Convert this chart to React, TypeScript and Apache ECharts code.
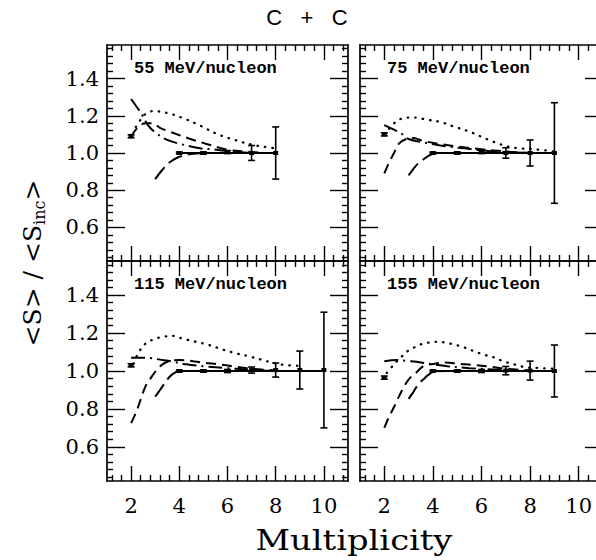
import { useEffect, useRef } from 'react';
import * as echarts from 'echarts';

// ---------- tick labels / ticks ----------
const xMajorTicks = [2, 4, 6, 8, 10];
const xMinorTicks = [1.2, 1.6, 2.4, 2.8, 3.2, 3.6, 4.4, 4.8, 5.2, 5.6, 6.4, 6.8, 7.2, 7.6, 8.4, 8.8, 9.2, 9.6, 10.4, 10.8];
const yMajorTicks = [0.6, 0.8, 1.0, 1.2, 1.4];
const yMinorTicks = [0.44, 0.48, 0.52, 0.56, 0.64, 0.68, 0.72, 0.76, 0.84, 0.88, 0.92, 0.96, 1.04, 1.08, 1.12, 1.16, 1.24, 1.28, 1.32, 1.36, 1.44, 1.48, 1.52, 1.56];

const panelLabels = ['55 MeV/nucleon', '75 MeV/nucleon', '115 MeV/nucleon', '155 MeV/nucleon'];

// ---------- 55 MeV/nucleon ----------
const dotted55 = [[2.2, 1.14], [2.4, 1.18], [2.6, 1.21], [2.9, 1.225], [3.5, 1.215], [4.2, 1.185], [4.9, 1.145], [5.6, 1.10], [6.3, 1.07], [7.0, 1.045], [7.7, 1.03], [8.0, 1.025]];
const dashed55 = [[2, 1.09], [2.3, 1.14], [2.6, 1.16], [2.9, 1.16], [3.2, 1.135], [3.7, 1.11], [4.4, 1.078], [5.1, 1.05], [6, 1.018], [6.9, 1.007], [7.5, 1.0]];
const longDash55 = [[3, 0.86], [3.3, 0.91], [3.6, 0.95], [4, 0.98], [4.5, 0.995], [5, 1.0]];
const dashDot55 = [[2, 1.29], [2.43, 1.21], [2.7, 1.15], [3.0, 1.11], [3.5, 1.07], [4, 1.05], [4.85, 1.025], [5.4, 1.02], [6, 1.01], [7, 1.0]];
const data55X = [2, 4, 5, 6, 7, 8];
const data55Y = [1.09, 1.0, 1.0, 1.005, 1.0, 1.0];
const data55Err = [0.008, 0.005, 0.006, 0.008, 0.04, 0.14];

// ---------- 75 MeV/nucleon ----------
const dotted75 = [[2.2, 1.13], [2.5, 1.17], [2.9, 1.19], [3.3, 1.19], [3.7, 1.18], [4.3, 1.167], [4.9, 1.14], [5.5, 1.115], [6.0, 1.087], [6.5, 1.06], [7.1, 1.034], [7.6, 1.025], [8.2, 1.02], [9.0, 1.008]];
const dashed75 = [[2, 0.89], [2.2, 0.95], [2.4, 1.0], [2.6, 1.05], [2.9, 1.075], [3.2, 1.08], [3.6, 1.065], [4.2, 1.05], [5, 1.035], [6, 1.02], [7, 1.008], [8, 1.0]];
const longDash75 = [[3, 0.88], [3.2, 0.915], [3.4, 0.945], [3.6, 0.965], [3.9, 0.99], [4.2, 1.0], [4.6, 1.0]];
const dashDot75 = [[2, 1.15], [2.4, 1.125], [2.7, 1.105], [3, 1.075], [3.5, 1.06], [4, 1.048], [4.6, 1.035], [5.3, 1.025], [6, 1.015], [7, 1.005], [8, 1.0]];
const data75X = [2, 4, 5, 6, 7, 8, 9];
const data75Y = [1.10, 1.0, 1.0, 1.005, 1.0, 1.0, 1.0];
const data75Err = [0.008, 0.005, 0.006, 0.008, 0.028, 0.07, 0.27];

// ---------- 115 MeV/nucleon ----------
const dotted115 = [[2.1, 1.04], [2.3, 1.095], [2.6, 1.145], [2.9, 1.165], [3.3, 1.18], [3.8, 1.185], [4.1, 1.172], [4.6, 1.157], [5.2, 1.138], [5.8, 1.113], [6.3, 1.095], [6.9, 1.077], [7.4, 1.06], [7.8, 1.046], [8.3, 1.033], [9.0, 1.027]];
const dashed115 = [[2, 0.725], [2.2, 0.78], [2.4, 0.85], [2.6, 0.92], [2.8, 0.96], [3.0, 0.995], [3.3, 1.035], [3.6, 1.052], [4.0, 1.058], [4.5, 1.053], [5.1, 1.042], [5.6, 1.036], [6.2, 1.025], [7, 1.012], [8, 1.003]];
const longDash115 = [[3, 0.865], [3.2, 0.9], [3.4, 0.936], [3.6, 0.97], [3.8, 0.99], [4.0, 1.0], [4.5, 1.0]];
const dashDot115 = [[2, 1.07], [2.5, 1.07], [2.8, 1.068], [3.2, 1.06], [3.7, 1.05], [4.3, 1.035], [5, 1.025], [6, 1.015], [7, 1.005], [8, 1.0]];
const data115X = [2, 4, 5, 6, 7, 8, 9, 10];
const data115Y = [1.03, 1.0, 1.0, 1.0, 1.005, 1.005, 1.005, 1.005];
const data115Err = [0.008, 0.005, 0.006, 0.008, 0.016, 0.037, 0.10, 0.305];

// ---------- 155 MeV/nucleon ----------
const dotted155 = [[2.1, 0.99], [2.4, 1.035], [2.7, 1.074], [2.95, 1.104], [3.2, 1.122], [3.5, 1.14], [3.75, 1.148], [4.1, 1.154], [4.4, 1.152], [4.9, 1.139], [5.25, 1.126], [5.7, 1.104], [6.1, 1.086], [6.5, 1.072], [6.9, 1.051], [7.4, 1.033], [7.8, 1.02], [8.3, 1.016], [9.0, 1.012]];
const dashed155 = [[2, 0.70], [2.2, 0.76], [2.4, 0.81], [2.6, 0.865], [2.8, 0.915], [3.0, 0.955], [3.3, 0.99], [3.6, 1.025], [4.0, 1.037], [4.5, 1.045], [5.1, 1.038], [5.6, 1.033], [6.2, 1.025], [7, 1.012], [8, 1.003]];
const longDash155 = [[3, 0.853], [3.2, 0.89], [3.4, 0.93], [3.6, 0.955], [3.8, 0.978], [4.05, 0.998], [4.5, 1.0]];
const dashDot155 = [[2, 1.052], [2.5, 1.058], [3, 1.052], [3.5, 1.045], [4, 1.035], [4.6, 1.025], [5.5, 1.015], [6.5, 1.008], [7.5, 1.0]];
const data155X = [2, 4, 5, 6, 7, 8, 9];
const data155Y = [0.965, 1.0, 1.0, 1.0, 1.002, 1.002, 1.0];
const data155Err = [0.008, 0.005, 0.006, 0.008, 0.022, 0.05, 0.137];

// reference line (ratio = 1) start
const refLineStart = 4;
const refLineValue = 1.0;

// ---------- layout ----------
const GRIDS = [
  { left: 107, top: 45, width: 241, height: 216 },
  { left: 360, top: 45, width: 243, height: 216 },
  { left: 107, top: 261, width: 241, height: 220 },
  { left: 360, top: 261, width: 243, height: 220 },
];
const SERIF = "'DejaVu Serif', serif";
const BLACK = '#000';

export default function App() {
  const ref = useRef<HTMLDivElement>(null);

  useEffect(() => {
    if (!ref.current) return;
    const chart = echarts.init(ref.current, null, { renderer: 'svg' });

    const panels = [
      { dotted: dotted55, dashed: dashed55, longDash: longDash55, dashDot: dashDot55, x: data55X, y: data55Y, e: data55Err },
      { dotted: dotted75, dashed: dashed75, longDash: longDash75, dashDot: dashDot75, x: data75X, y: data75Y, e: data75Err },
      { dotted: dotted115, dashed: dashed115, longDash: longDash115, dashDot: dashDot115, x: data115X, y: data115Y, e: data115Err },
      { dotted: dotted155, dashed: dashed155, longDash: longDash155, dashDot: dashDot155, x: data155X, y: data155Y, e: data155Err },
    ];

    const xAxes: any[] = [];
    const yAxes: any[] = [];
    GRIDS.forEach((_, g) => {
      const mkX = (position: string, major: boolean, labels: boolean) => ({
        gridIndex: g,
        type: 'value',
        min: 1,
        max: 11,
        position,
        axisLine: { show: major, lineStyle: { color: BLACK, width: 1.7 } },
        axisTick: {
          show: true,
          inside: true,
          length: major ? 15 : 6,
          customValues: major ? xMajorTicks : xMinorTicks,
          lineStyle: { color: BLACK, width: 1.4 },
        },
        axisLabel: {
          show: labels,
          customValues: xMajorTicks,
          margin: 14,
          color: BLACK,
          fontFamily: SERIF,
          fontSize: 21,
        },
        splitLine: { show: false },
      });
      xAxes.push(mkX('bottom', true, g >= 2));
      xAxes.push(mkX('bottom', false, false));
      xAxes.push(mkX('top', true, false));
      xAxes.push(mkX('top', false, false));

      const mkY = (position: string, major: boolean, labels: boolean) => ({
        gridIndex: g,
        type: 'value',
        min: 0.42,
        max: 1.58,
        position,
        axisLine: { show: major, lineStyle: { color: BLACK, width: 1.7 } },
        axisTick: {
          show: true,
          inside: true,
          length: major ? 18 : 6,
          customValues: major ? yMajorTicks : yMinorTicks,
          lineStyle: { color: BLACK, width: 1.4 },
        },
        axisLabel: {
          show: labels,
          customValues: yMajorTicks,
          margin: 8,
          color: BLACK,
          fontFamily: SERIF,
          fontSize: 21,
          formatter: (v: number) => v.toFixed(1),
        },
        splitLine: { show: false },
      });
      yAxes.push(mkY('left', true, g % 2 === 0));
      yAxes.push(mkY('left', false, false));
      yAxes.push(mkY('right', true, false));
      yAxes.push(mkY('right', false, false));
    });

    const series: any[] = [];
    panels.forEach((p, g) => {
      const ax = { xAxisIndex: g * 4, yAxisIndex: g * 4 };
      const line = (data: number[][], type: any, width = 2, cap = 'butt') => ({
        type: 'line',
        ...ax,
        data,
        symbol: 'none',
        smooth: 0.35,
        lineStyle: { color: BLACK, width, type, cap },
        silent: true,
      });
      series.push(line(p.dotted, [0.5, 7], 2.3, 'round'));
      series.push(line(p.dashed, [10, 6]));
      series.push(line(p.longDash, [15, 6]));
      series.push(line(p.dashDot, [14, 5, 2, 5]));
      const lastX = p.x[p.x.length - 1];
      series.push({
        type: 'line',
        ...ax,
        data: [[refLineStart, refLineValue], [lastX, refLineValue]],
        symbol: 'none',
        lineStyle: { color: BLACK, width: 2, type: 'solid' },
        silent: true,
      });
      series.push({
        type: 'custom',
        ...ax,
        data: p.x.map((x, i) => [x, p.y[i], p.e[i]]),
        renderItem: (_params: any, api: any) => {
          const x = api.value(0);
          const y = api.value(1);
          const e = api.value(2);
          const top = api.coord([x, y + e]);
          const bot = api.coord([x, y - e]);
          const c = api.coord([x, y]);
          const hw = 3.5;
          const st = { stroke: BLACK, lineWidth: 1.6 };
          return {
            type: 'group',
            children: [
              { type: 'line', shape: { x1: top[0], y1: top[1], x2: bot[0], y2: bot[1] }, style: st },
              { type: 'line', shape: { x1: top[0] - hw, y1: top[1], x2: top[0] + hw, y2: top[1] }, style: st },
              { type: 'line', shape: { x1: bot[0] - hw, y1: bot[1], x2: bot[0] + hw, y2: bot[1] }, style: st },
              { type: 'rect', shape: { x: c[0] - 2.5, y: c[1] - 2, width: 5, height: 4 }, style: { fill: BLACK } },
            ],
          };
        },
        silent: true,
      });
    });

    const graphic: any[] = [
      {
        type: 'text',
        x: 307,
        y: 17,
        style: {
          text: 'C   +   C',
          fontFamily: "'Liberation Sans', Arial, sans-serif",
          fontSize: 22,
          fill: BLACK,
          align: 'center',
          verticalAlign: 'middle',
        },
      },
      {
        type: 'text',
        x: 354,
        y: 541,
        scaleX: 1.25,
        style: {
          text: 'Multiplicity',
          fontFamily: SERIF,
          fontSize: 27,
          fill: BLACK,
          align: 'center',
          verticalAlign: 'middle',
        },
      },
      {
        type: 'text',
        x: 32,
        y: 263,
        rotation: Math.PI / 2,
        style: {
          text: '<S> / <S{sub|inc}>',
          fontFamily: SERIF,
          fontSize: 25,
          lineHeight: 30,
          fill: BLACK,
          align: 'center',
          verticalAlign: 'middle',
          rich: {
            sub: { fontFamily: SERIF, fontSize: 16, lineHeight: 16, verticalAlign: 'bottom', fill: BLACK },
          },
        },
      },
    ];
    GRIDS.forEach((gr, g) => {
      graphic.push({
        type: 'text',
        x: gr.left + 27,
        y: gr.top + 23,
        style: {
          text: panelLabels[g],
          fontFamily: "'Liberation Mono', 'Courier New', monospace",
          fontWeight: 'bold',
          fontSize: 17,
          fill: BLACK,
          align: 'left',
          verticalAlign: 'middle',
        },
      });
    });

    chart.setOption({
      animation: false,
      backgroundColor: '#fff',
      grid: GRIDS.map((g) => ({ ...g, containLabel: false })),
      xAxis: xAxes,
      yAxis: yAxes,
      series,
      graphic,
    });

    return () => chart.dispose();
  }, []);

  return (
    <div style={{ position: 'absolute', left: 0, top: 0, width: 596, height: 560, overflow: 'hidden', background: '#fff' }}>
      <div ref={ref} style={{ width: 620, height: 560 }} />
    </div>
  );
}
